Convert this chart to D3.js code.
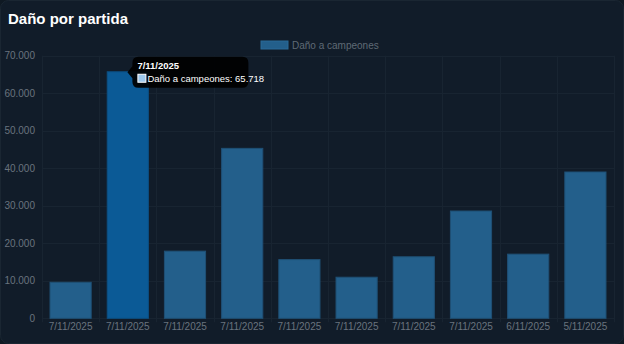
<!DOCTYPE html>
<html>
<head>
<meta charset="utf-8">
<script src="https://cdn.jsdelivr.net/npm/d3@7"></script>
<style>
html,body{margin:0;padding:0;background:#0f1923;}
svg{display:block;font-family:"Liberation Sans",Arial,sans-serif;}
</style>
</head>
<body>
<svg id="c" width="624" height="344"></svg>
<script>
const categories = ["7/11/2025","7/11/2025","7/11/2025","7/11/2025","7/11/2025","7/11/2025","7/11/2025","7/11/2025","6/11/2025","5/11/2025"];
const damage = [9600, 65718, 17900, 45300, 15650, 10950, 16400, 28600, 17100, 39000];
const yTicks = [0,10000,20000,30000,40000,50000,60000,70000];
const seriesName = "Daño a campeones";
const title = "Daño por partida";
const hoverIndex = 1;

const svg = d3.select("#c");
const W = 624, H = 344;
svg.append("rect").attr("x",0.5).attr("y",0.5).attr("width",W-1).attr("height",H-1).attr("rx",8)
  .attr("fill","#111c29").attr("stroke","#1a2632");

const m = {left:42, right:10, top:55.7, bottom:25.7};
const x = d3.scaleBand().domain(d3.range(categories.length)).range([m.left, W-m.right]).paddingInner(0).paddingOuter(0);
const y = d3.scaleLinear().domain([0,70000]).range([H-m.bottom, m.top]);
const fmt = v => d3.format(",")(v).replace(/,/g,".");

// grid
const g = svg.append("g");
g.selectAll("line.h").data(yTicks).join("line")
  .attr("x1",m.left).attr("x2",W-m.right)
  .attr("y1",d=>Math.round(y(d))+0.5).attr("y2",d=>Math.round(y(d))+0.5)
  .attr("stroke","#182431").attr("stroke-width",1);
g.selectAll("line.v").data(d3.range(categories.length+1)).join("line")
  .attr("x1",d=>Math.round(m.left + d*x.step())+0.5).attr("x2",d=>Math.round(m.left + d*x.step())+0.5)
  .attr("y1",m.top).attr("y2",H-m.bottom+4)
  .attr("stroke","#182431").attr("stroke-width",1);

// y axis labels
const yAxis = d3.axisLeft(y).tickValues(yTicks).tickFormat(fmt).tickSize(0).tickPadding(0);
svg.append("g").attr("transform",`translate(${m.left-7},0)`).call(yAxis)
  .call(a=>a.select(".domain").remove())
  .call(a=>a.selectAll("text").attr("fill","#69737e").attr("font-size",10).attr("font-family","Liberation Sans,Arial,sans-serif"));

// x axis labels
const xAxis = d3.axisBottom(x).tickFormat(i=>categories[i]).tickSize(0).tickPadding(0);
svg.append("g").attr("transform",`translate(0,${H-m.bottom+5})`).call(xAxis)
  .call(a=>a.select(".domain").remove())
  .call(a=>a.selectAll("text").attr("fill","#69737e").attr("font-size",10).attr("font-family","Liberation Sans,Arial,sans-serif"));

// bars
const bw = x.step()*0.72;
svg.append("g").selectAll("rect").data(damage).join("rect")
  .attr("x",(d,i)=>x(i)+(x.bandwidth()-bw)/2)
  .attr("width",bw)
  .attr("y",d=>y(d))
  .attr("height",d=>y(0)-y(d))
  .attr("fill",(d,i)=>i===hoverIndex?"#0b5a96":"#235f8b")
  .attr("stroke",(d,i)=>i===hoverIndex?"#0c4f82":"#1f5075")
  .attr("stroke-width",1);

// title
svg.append("text").attr("x",8).attr("y",24).text(title)
  .attr("fill","#ffffff").attr("font-size",15).attr("font-weight","bold");

// legend
svg.append("rect").attr("x",261).attr("y",41).attr("width",27).attr("height",8).attr("fill","#235f8b").attr("stroke","#2a6a98");
svg.append("text").attr("x",292).attr("y",48.5).text(seriesName).attr("fill","#5f6a75").attr("font-size",10);

// tooltip
const bx = x(hoverIndex)+(x.bandwidth()+bw)/2;
const tx = bx - 16, ty = y(damage[hoverIndex]) - 15;
const tip = svg.append("g").attr("transform",`translate(${tx},${ty})`);
const tw = 110, th = 31;
tip.append("path").attr("d",
  `M6,0 H${tw} Q${tw+6},0 ${tw+6},6 V${th-6} Q${tw+6},${th} ${tw},${th} H6 Q0,${th} 0,${th-6} V${th/2+6} L-5,${th/2} L0,${th/2-6} V6 Q0,0 6,0 Z`)
  .attr("fill","#000000").attr("fill-opacity",0.92);
tip.append("text").attr("x",5).attr("y",12).text(categories[hoverIndex])
  .attr("fill","#ffffff").attr("font-size",9.5).attr("font-weight","bold");
tip.append("rect").attr("x",5.5).attr("y",17.5).attr("width",8).attr("height",8)
  .attr("fill","#9dc9ee").attr("stroke","#ffffff").attr("stroke-width",1);
tip.append("text").attr("x",15).attr("y",25).text(`${seriesName}: ${fmt(damage[hoverIndex])}`)
  .attr("fill","#ffffff").attr("font-size",9.5);
</script>
</body>
</html>
